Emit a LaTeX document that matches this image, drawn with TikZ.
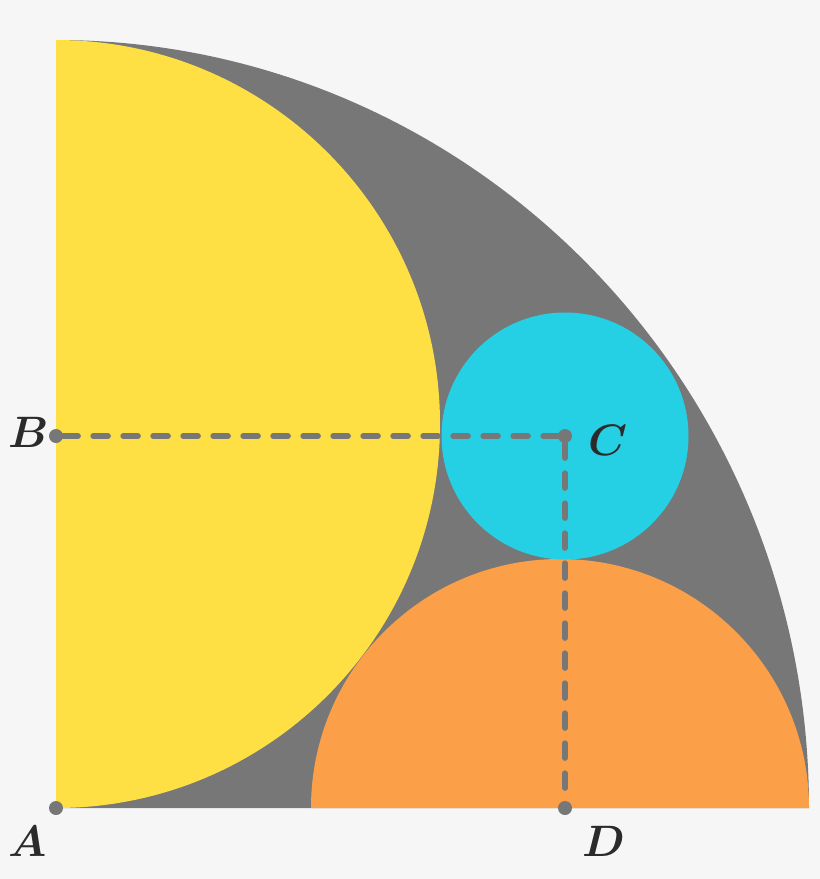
\documentclass[tikz,border=0pt]{standalone}
\usepackage{fontspec}
\newfontfamily\lblfont{latinmodern-math.otf}
\definecolor{bgcol}{HTML}{F6F6F6}
\definecolor{quartercol}{HTML}{777777}
\definecolor{yellowcol}{HTML}{FFE044}
\definecolor{cyancol}{HTML}{26D0E4}
\definecolor{orangecol}{HTML}{FB9F48}
\definecolor{textcol}{HTML}{2B2B2B}
\tikzset{
	dot/.style={inner sep=0pt, minimum size=10.5pt, fill=quartercol, circle},
	lbl/.style={text=textcol, inner sep=0pt, font=\lblfont\fontsize{33}{40}\selectfont}
}
\begin{document}
\begin{tikzpicture}[x=0.75pt,y=-0.75pt]
	% Frame
	\fill[bgcol] (0,0) rectangle (820,879);
	\useasboundingbox (0,0) rectangle (820,879);
	
	% Shapes
	\fill[quartercol] (56,808) -- (56,40) arc[start angle=-90, end angle=0, x radius=753, y radius=768] -- cycle;
	\fill[yellowcol] (56,40) arc[start angle=-90, end angle=90, radius=384] -- cycle;
	\fill[orangecol] (311,808) arc[start angle=180, end angle=360, radius=249] -- cycle;
	\fill[cyancol] (565,436) circle[radius=123.5];
	
	% Points
	\node[dot] (A) at (56,808) {};
	\node[dot] (B) at (56,436) {};
	\node[dot] (C) at (565,436) {};
	\node[dot] (D) at (565,808) {};
	
	% Dashed lines
	\draw[quartercol, line width=4.4pt, line cap=round, dash pattern=on 11pt off 11.5pt] (B) -- (C) -- (D);
	
	% Labels
	\node[lbl] at (28,432) {𝑩};
	\node[lbl] at (606,440) {𝑪};
	\node[lbl] at (28,841) {𝑨};
	\node[lbl] at (603,841) {𝑫};
\end{tikzpicture}
\end{document}
